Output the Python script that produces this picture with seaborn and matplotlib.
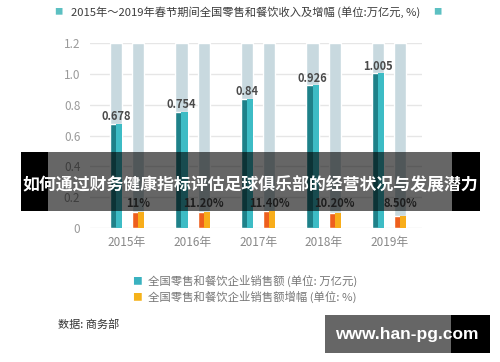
import pandas as pd
import matplotlib.pyplot as plt
import seaborn as sns
from matplotlib.patches import Rectangle

# data
years = ['2015年', '2016年', '2017年', '2018年', '2019年']
sales = [0.678, 0.754, 0.84, 0.926, 1.005]          # 万亿元
growth = [11.0, 11.2, 11.4, 10.2, 8.5]              # %
sales_labels = ['0.678', '0.754', '0.84', '0.926', '1.005']
growth_labels = ['11%', '11.20%', '11.40%', '10.20%', '8.50%']
yticks = [0, 0.2, 0.4, 0.6, 0.8, 1.0, 1.2]
ytick_labels = ['0', '0.2', '0.4', '0.6', '0.8', '1.0', '1.2']

teal_dark, teal_light = '#1e8189', '#3dbcc5'
orange_dark, orange_light = '#ee5f1d', '#f8ad1a'
bg_col = '#c8d9df'

sns.set_style('white')
plt.rcParams['font.family'] = ['Noto Sans CJK SC', 'DejaVu Sans']

# growth is drawn on the same axis, scaled down like the original
main = pd.DataFrame({
    'year': years * 2,
    'series': ['sales'] * 5 + ['growth'] * 5,
    'value': sales + [g / 100 * 0.95 for g in growth],
})
bg = main.assign(value=1.2)

fig = plt.figure(figsize=(5, 3.62), dpi=100)
ax = fig.add_axes([0.18, 0.370, 0.664, 0.511])

sns.barplot(data=bg, x='year', y='value', hue='series', palette=[bg_col, bg_col],
            width=0.68, gap=0.45, errorbar=None, legend=False, saturation=1, ax=ax, zorder=2)
n_bg = len(ax.patches)
sns.barplot(data=main, x='year', y='value', hue='series', palette=[teal_dark, orange_dark],
            width=0.68, gap=0.45, errorbar=None, legend=False, saturation=1, ax=ax, zorder=3)

# seaborn draws hue level by level: 5 sales bars, then 5 growth bars
bars = list(ax.patches[n_bg:n_bg + 10])
sales_bars, growth_bars = bars[:5], bars[5:]

for p, lab in zip(sales_bars, sales_labels):
    x0, w, h = p.get_x(), p.get_width(), p.get_height()
    ax.bar(x0 + w / 2, h, w / 2, align='edge', color=teal_light, zorder=4, linewidth=0)
    ax.text(x0 + w / 2, h + 0.045, lab, ha='center', va='center',
            fontsize=8, fontweight='bold', color='#4a4a4a', zorder=5)

for p, lab in zip(growth_bars, growth_labels):
    x0, w, h = p.get_x(), p.get_width(), p.get_height()
    ax.bar(x0 + w / 2, h, w / 2, align='edge', color=orange_light, zorder=4, linewidth=0)
    ax.text(x0 + w / 2, 0.162, lab, ha='center', va='center',
            fontsize=8, fontweight='bold', color='#4a4a4a', zorder=5)

ax.set_xlim(-0.565, 4.5)
ax.set_ylim(0, 1.2)
ax.set_yticks(yticks)
ax.set_yticklabels(ytick_labels)
ax.grid(axis='y', color='#e6e6e6', linewidth=1, zorder=0)
ax.set_axisbelow(True)
for s in ax.spines.values():
    s.set_visible(False)
ax.tick_params(axis='y', length=0, pad=7, labelcolor='#9a9a9a', labelsize=8.5)
ax.tick_params(axis='x', length=0, pad=6, labelcolor='#888888', labelsize=8.5)
ax.set_xlabel('')
ax.set_ylabel('')


def fx(px):
    return px / 500


def fy(py):
    return 1 - py / 362


# title
fig.text(fx(58), fy(12), '■', color='#5cc0c2', fontsize=6, ha='center', va='center')
fig.text(fx(437), fy(12), '■', color='#5cc0c2', fontsize=6, ha='center', va='center')
fig.text(fx(246), fy(12), '2015年～2019年春节期间全国零售和餐饮收入及增幅 (单位:万亿元, %)',
         color='#3c3c3c', fontsize=8.1, ha='center', va='center')

# legend
fig.text(fx(137), fy(281), '■', color='#3ab2c0', fontsize=7, ha='center', va='center')
fig.text(fx(148), fy(281), '全国零售和餐饮企业销售额 (单位: 万亿元)', color='#777777',
         fontsize=8.2, ha='left', va='center')
fig.text(fx(137), fy(297), '■', color='#f5b21a', fontsize=7, ha='center', va='center')
fig.text(fx(148), fy(297), '全国零售和餐饮企业销售额增幅 (单位: %)', color='#777777',
         fontsize=8.2, ha='left', va='center')

fig.text(fx(58), fy(325), '数据: 商务部', color='#333333', fontsize=8, ha='left', va='center')

# overlay banner
fig.add_artist(Rectangle((fx(21), fy(211)), fx(459), 59 / 362, transform=fig.transFigure,
                         color='black', alpha=0.6, linewidth=0, zorder=10))
fig.add_artist(Rectangle((fx(21), fy(211)), fx(27), 59 / 362, transform=fig.transFigure,
                         color='black', linewidth=0, zorder=10))
fig.add_artist(Rectangle((fx(452), fy(211)), fx(28), 59 / 362, transform=fig.transFigure,
                         color='black', linewidth=0, zorder=10))
fig.text(fx(250), fy(185), '如何通过财务健康指标评估足球俱乐部的经营状况与发展潜力',
         color='white', fontsize=12.2, fontweight='bold', ha='center', va='center', zorder=11)

# watermark
fig.add_artist(Rectangle((fx(325), fy(353)), fx(165), 38 / 362, transform=fig.transFigure,
                         color='#666666', linewidth=0, zorder=10))
fig.add_artist(Rectangle((fx(451), fy(353)), fx(39), 38 / 362, transform=fig.transFigure,
                         color='black', linewidth=0, zorder=10))
fig.text(fx(407), fy(335), 'www.han-pg.com', color='white', fontsize=12.5, fontweight='bold',
         family='Liberation Sans', ha='center', va='center', zorder=11)

fig.savefig('out.png', dpi=100)
